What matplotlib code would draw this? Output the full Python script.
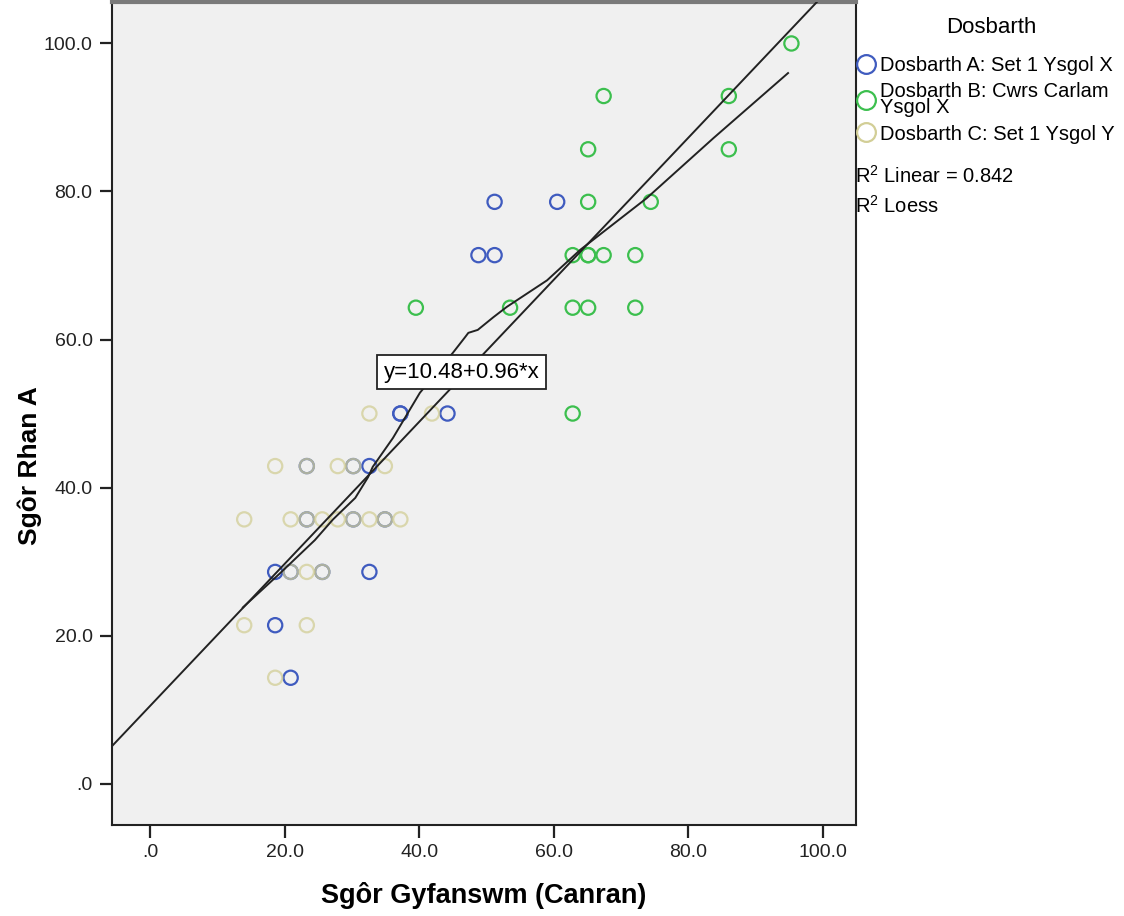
import matplotlib
matplotlib.use('Agg')
import matplotlib.pyplot as plt
from matplotlib.lines import Line2D
from matplotlib.ticker import FuncFormatter

plt.rcParams['font.family'] = ['Liberation Sans', 'DejaVu Sans']
plt.rcParams['mathtext.default'] = 'regular'

# Dosbarth A: Set 1 Ysgol X
a_x = [51.2, 60.5, 48.8, 51.2, 37.2, 37.2, 44.2, 32.6, 23.3, 30.2,
       23.3, 30.2, 34.9, 18.6, 20.9, 25.6, 32.6, 18.6, 20.9]
a_y = [78.6, 78.6, 71.4, 71.4, 50.0, 50.0, 50.0, 42.9, 42.9, 42.9,
       35.7, 35.7, 35.7, 28.6, 28.6, 28.6, 28.6, 21.4, 14.3]

# Dosbarth B: Cwrs Carlam Ysgol X
b_x = [95.3, 67.4, 86.0, 65.1, 86.0, 65.1, 74.4, 62.8, 65.1, 65.1,
       67.4, 72.1, 39.5, 53.5, 62.8, 65.1, 72.1, 62.8]
b_y = [100.0, 92.9, 92.9, 85.7, 85.7, 78.6, 78.6, 71.4, 71.4, 71.4,
       71.4, 71.4, 64.3, 64.3, 64.3, 64.3, 64.3, 50.0]

# Dosbarth C: Set 1 Ysgol Y
c_x = [14.0, 14.0, 18.6, 18.6, 20.9, 20.9, 23.3, 23.3, 23.3, 23.3, 25.6,
       25.6, 27.9, 27.9, 30.2, 30.2, 32.6, 32.6, 34.9, 34.9, 37.2, 41.9]
c_y = [35.7, 21.4, 42.9, 14.3, 35.7, 28.6, 42.9, 35.7, 28.6, 21.4, 35.7,
       28.6, 42.9, 35.7, 42.9, 35.7, 50.0, 35.7, 42.9, 35.7, 35.7, 50.0]

# llinell loess (darllenwyd o'r llun)
loess_x = [13.8, 19.3, 24.5, 27.2, 30.5, 32.4, 33.1, 36.1, 40.1, 45.0,
           46.8, 47.3, 48.7, 51.0, 53.0, 59.0, 63.9, 73.8, 83.7, 94.8]
loess_y = [23.8, 28.4, 32.9, 35.7, 38.6, 41.4, 42.8, 46.7, 52.8, 58.2,
           60.3, 60.9, 61.3, 63.0, 64.4, 68.0, 72.1, 79.1, 87.2, 96.0]

intercept = 10.48
slope = 0.96
r2 = 0.842

blue = '#3F5BBF'
green = '#3CBF4E'
beige = '#D2CE96'

fig = plt.figure(figsize=(11.24, 9.16), dpi=100)
ax = fig.add_axes([0.0996, 0.0993, 0.662, 0.8985])
ax.set_facecolor('#F0F0F0')

ax.scatter(a_x, a_y, s=105, facecolors='none', edgecolors=blue, linewidths=1.6, zorder=3)
ax.scatter(b_x, b_y, s=105, facecolors='none', edgecolors=green, linewidths=1.6, zorder=3)
ax.scatter(c_x, c_y, s=105, facecolors='none', edgecolors=beige, linewidths=1.6,
           alpha=0.75, zorder=4)

xmin, xmax = -5.65, 104.9
ax.plot([xmin, xmax], [intercept + slope * xmin, intercept + slope * xmax],
        color='#222222', lw=1.4, zorder=5)
ax.plot(loess_x, loess_y, color='#222222', lw=1.4, zorder=5)

ax.text(46.3, 55.6, 'y=10.48+0.96*x', fontsize=16, ha='center', va='center',
        bbox=dict(boxstyle='square,pad=0.3', fc='white', ec='#222222', lw=1.3), zorder=6)

ax.set_xlim(xmin, xmax)
ax.set_ylim(-5.6, 105.6)
ticks = [0, 20, 40, 60, 80, 100]
ax.set_xticks(ticks)
ax.set_yticks(ticks)
fmt = FuncFormatter(lambda v, p: '.0' if v == 0 else '%.1f' % v)
ax.xaxis.set_major_formatter(fmt)
ax.yaxis.set_major_formatter(fmt)
ax.tick_params(direction='out', length=9, width=1.6, labelsize=14, colors='#222222', pad=5)

for side in ['left', 'bottom', 'right']:
    ax.spines[side].set_color('#222222')
    ax.spines[side].set_linewidth(1.5)
ax.spines['top'].set_color('#7A7A7A')
ax.spines['top'].set_linewidth(3)

ax.set_xlabel('Sgôr Gyfanswm (Canran)', fontsize=19.5, fontweight='bold', va='center')
ax.set_ylabel('Sgôr Rhan A', fontsize=19, fontweight='bold', va='center')
ax.xaxis.set_label_coords(0.5, -0.0851)
ax.yaxis.set_label_coords(-0.110, 0.437)

labels = ['Dosbarth A: Set 1 Ysgol X', 'Dosbarth B: Cwrs Carlam\nYsgol X',
          'Dosbarth C: Set 1 Ysgol Y']
handles = [Line2D([], [], ls='none', marker='o', ms=13.5, mfc='none', mec=c, mew=1.6)
           for c in [blue, green, beige]]
leg = fig.legend(handles, labels, loc='upper left',
                 bbox_to_anchor=(0.754, 0.948), frameon=False, fontsize=14.5,
                 handlelength=1.0, handletextpad=0.2,
                 labelspacing=0.35, borderaxespad=0)
for t in leg.get_texts():
    t.set_linespacing(0.85)
fig.text(0.882, 0.970, 'Dosbarth', fontsize=16, ha='center', va='center')

fig.text(0.761, 0.808, 'R$^2$ Linear = %.3f' % r2, fontsize=14.5, va='center')
fig.text(0.761, 0.775, 'R$^2$ Loess', fontsize=14.5, va='center')

fig.savefig('out.png', dpi=100)
